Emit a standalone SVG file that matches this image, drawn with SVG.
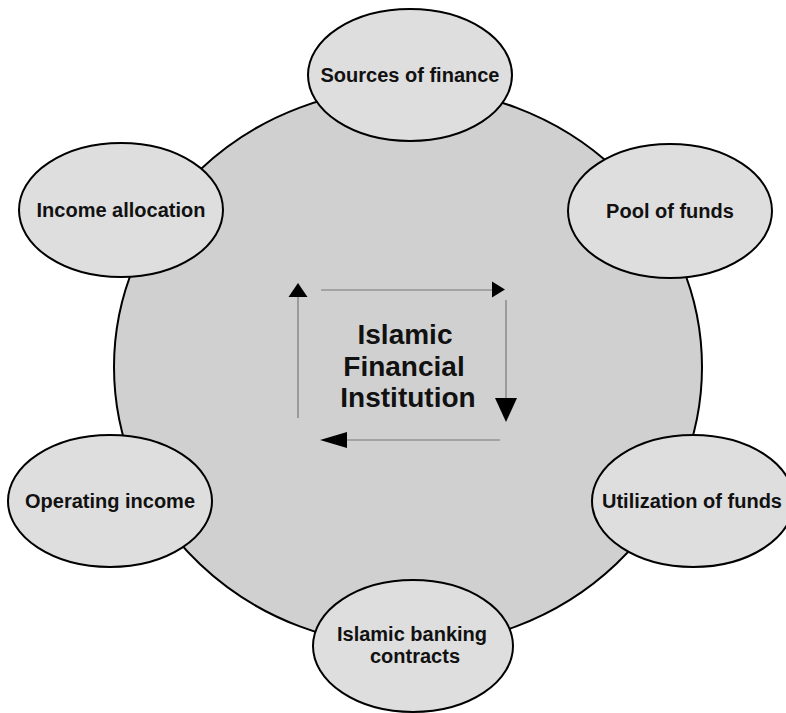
<svg xmlns="http://www.w3.org/2000/svg" width="786" height="713" viewBox="0 0 786 713">
  <style>
    .hub { fill: #d0d0d0; stroke: #000; stroke-width: 2; }
    .node { fill: #dedede; stroke: #000; stroke-width: 2; }
    .label { font-family: "Liberation Sans", Arial, sans-serif; font-weight: bold; font-size: 20px; fill: #111; text-anchor: middle; }
    .title { font-family: "Liberation Sans", Arial, sans-serif; font-weight: bold; font-size: 28px; fill: #111; text-anchor: middle; }
    .flow { stroke: #777; stroke-width: 1.2; fill: none; }
    .head { fill: #000; stroke: none; }
  </style>
  <rect width="786" height="713" fill="#fff"/>

  <!-- central institution -->
  <g id="hub">
    <ellipse class="hub" cx="408" cy="367" rx="294" ry="279"/>
    <text class="title" x="405" y="344">Islamic</text>
    <text class="title" x="404" y="376">Financial</text>
    <text class="title" x="408" y="407">Institution</text>
  </g>

  <!-- circular flow inside the hub -->
  <g id="connectors">
    <line class="flow" x1="321" y1="290" x2="493" y2="290"/>
    <polygon class="head" points="492,281.5 505,289.5 492,297.5"/>
    <line class="flow" x1="506" y1="300" x2="506" y2="399"/>
    <polygon class="head" points="495,398 517,398 506,422"/>
    <line class="flow" x1="500" y1="440" x2="346" y2="440"/>
    <polygon class="head" points="347,432 347,448 320,440"/>
    <line class="flow" x1="298" y1="418" x2="298" y2="296"/>
    <polygon class="head" points="288.5,297 307.5,297 298,283"/>
  </g>

  <g id="sources-of-finance">
    <ellipse class="node" cx="410" cy="75" rx="102" ry="66"/>
    <text class="label" x="410" y="82">Sources of finance</text>
  </g>

  <g id="pool-of-funds">
    <ellipse class="node" cx="670" cy="211" rx="102" ry="67"/>
    <text class="label" x="670" y="218">Pool of funds</text>
  </g>

  <g id="utilization-of-funds">
    <ellipse class="node" cx="693" cy="501" rx="101" ry="66"/>
    <text class="label" x="692" y="508">Utilization of funds</text>
  </g>

  <g id="islamic-banking-contracts">
    <ellipse class="node" cx="413" cy="646" rx="100" ry="66"/>
    <text class="label" x="412" y="641">Islamic banking</text>
    <text class="label" x="415" y="663">contracts</text>
  </g>

  <g id="operating-income">
    <ellipse class="node" cx="110" cy="501" rx="102" ry="66"/>
    <text class="label" x="110" y="508">Operating income</text>
  </g>

  <g id="income-allocation">
    <ellipse class="node" cx="121" cy="210" rx="102" ry="67"/>
    <text class="label" x="121" y="217">Income allocation</text>
  </g>
</svg>
